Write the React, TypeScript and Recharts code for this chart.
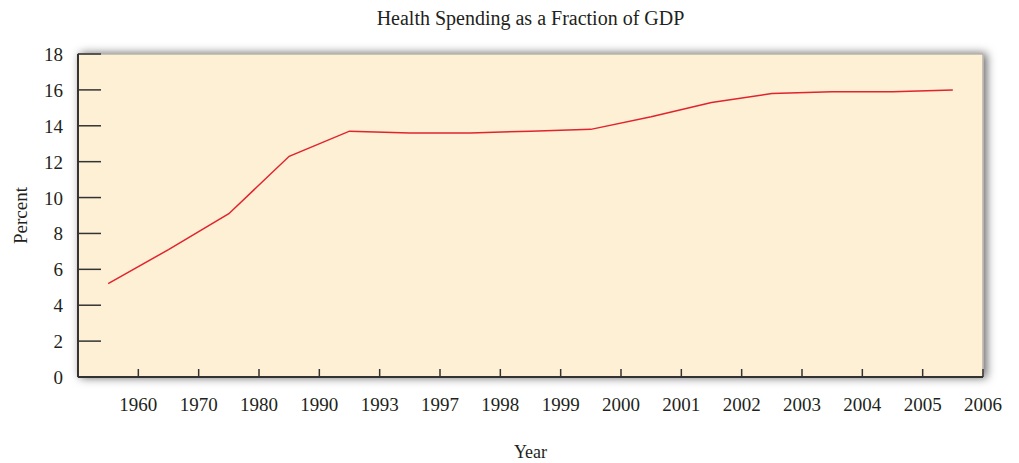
import React from 'react';
import { LineChart, Line, XAxis, YAxis, CartesianGrid, usePlotArea } from 'recharts';

const yearLabels = ['1960', '1970', '1980', '1990', '1993', '1997', '1998', '1999', '2000', '2001', '2002', '2003', '2004', '2005', '2006'];
const spendingPercent = [5.2, 7.1, 9.1, 12.3, 13.7, 13.6, 13.6, 13.7, 13.8, 14.5, 15.3, 15.8, 15.9, 15.9, 16.0];
const percentTicks = [0, 2, 4, 6, 8, 10, 12, 14, 16, 18];

const data = spendingPercent.map((value, i) => ({ pos: i + 0.5, value }));
const tickPositions = yearLabels.map((_, i) => i + 1);

const FONT = '"Liberation Serif", "Times New Roman", serif';

const PlotBackground = () => {
  const area = usePlotArea();
  if (!area) return null;
  const cx = area.x + area.width / 2;
  const cy = area.y + area.height / 2;
  return (
    <g>
      <defs>
        <filter id="plotShadow" x="-10%" y="-20%" width="120%" height="140%">
          <feDropShadow dx="3" dy="0" stdDeviation="5" floodColor="#000" floodOpacity="0.6" />
        </filter>
      </defs>
      <rect x={area.x} y={area.y} width={area.width} height={area.height} fill="#FDF0D4" stroke="#B9B3AA" strokeWidth={1.5} filter="url(#plotShadow)" />
      <text x={cx} y={25} textAnchor="middle" fontFamily={FONT} fontSize={20} fill="#231F20">
        Health Spending as a Fraction of GDP
      </text>
      <text x={cx} y={458} textAnchor="middle" fontFamily={FONT} fontSize={18} fill="#231F20">
        Year
      </text>
      <text x={0} y={0} transform={`translate(27, ${cy}) rotate(-90)`} textAnchor="middle" fontFamily={FONT} fontSize={19} fill="#231F20">
        Percent
      </text>
    </g>
  );
};

const XTick = (props: any) => {
  const { x, y, payload } = props;
  return (
    <g>
      <line x1={x} x2={x} y1={y} y2={y - 8} stroke="#333" strokeWidth={1.5} />
      <text x={x} y={y + 34} textAnchor="middle" fontFamily={FONT} fontSize={19} fill="#231F20">
        {yearLabels[payload.value - 1]}
      </text>
    </g>
  );
};

const YTick = (props: any) => {
  const { x, y, payload } = props;
  return (
    <g>
      <line x1={x} x2={x + 23} y1={y} y2={y} stroke="#333" strokeWidth={1.5} />
      <text x={x - 15} y={y + 7} textAnchor="end" fontFamily={FONT} fontSize={19} fill="#231F20">
        {payload.value}
      </text>
    </g>
  );
};

export default function App() {
  return (
    <div style={{ position: 'absolute', left: 0, top: 0, width: 1019, height: 463, background: '#fff' }}>
      <LineChart width={1019} height={463} data={data} margin={{ top: 54, right: 36, bottom: 0, left: 0 }}>
        <PlotBackground />
        <CartesianGrid horizontal vertical={false} stroke="#D4D6D6" strokeWidth={1.5} />
        <XAxis
          dataKey="pos"
          type="number"
          domain={[0, 15]}
          ticks={tickPositions}
          interval={0}
          height={86}
          tickSize={0}
          tickMargin={0}
          tickLine={false}
          tick={<XTick />}
          axisLine={{ stroke: '#333', strokeWidth: 2 }}
        />
        <YAxis
          type="number"
          domain={[0, 18]}
          ticks={percentTicks}
          interval={0}
          width={78}
          tickSize={0}
          tickMargin={0}
          tickLine={false}
          tick={<YTick />}
          axisLine={{ stroke: '#333', strokeWidth: 2 }}
        />
        <Line dataKey="value" type="linear" stroke="#E2232E" strokeWidth={1.5} dot={false} isAnimationActive={false} />
      </LineChart>
    </div>
  );
}
